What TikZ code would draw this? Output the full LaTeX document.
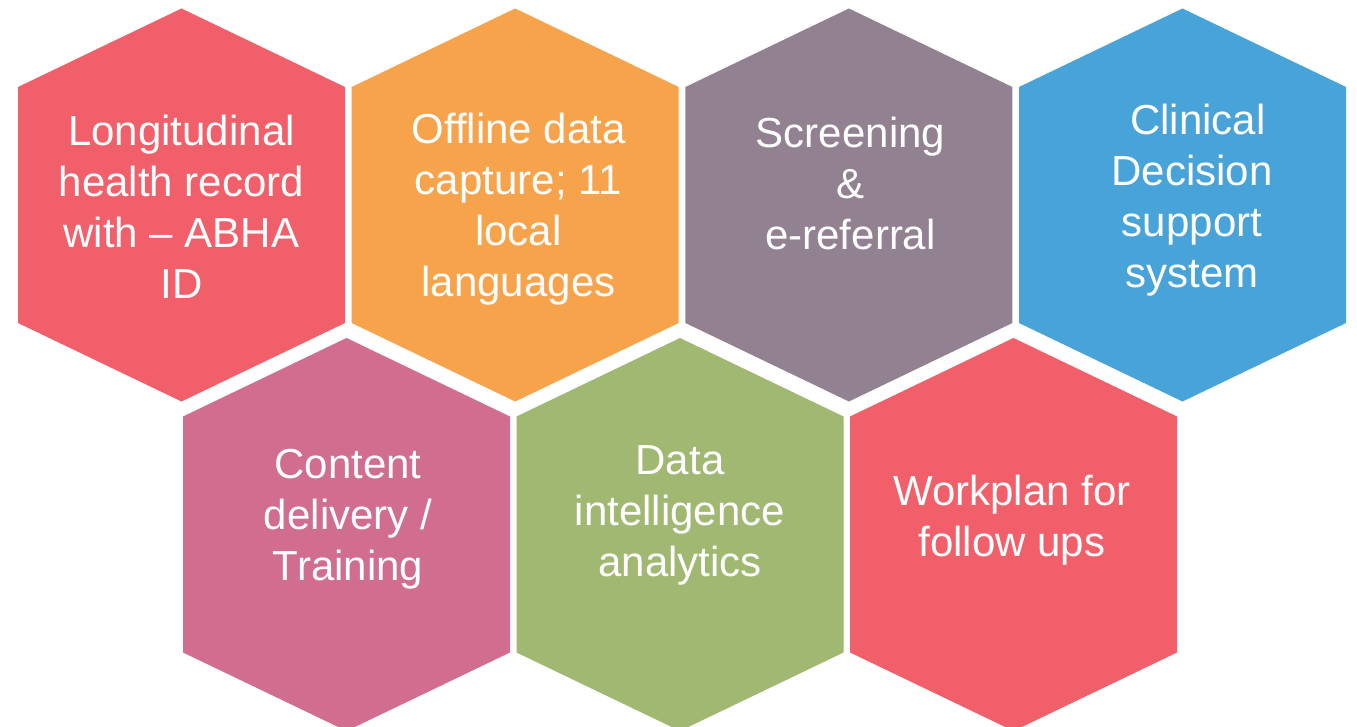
\documentclass[tikz,border=0pt]{standalone}
\usepackage{fontspec}
\setmainfont{Liberation Sans}
\definecolor{hexred}{HTML}{F1606A}
\definecolor{hexorange}{HTML}{F7A34C}
\definecolor{hexmauve}{HTML}{928190}
\definecolor{hexblue}{HTML}{48A4D8}
\definecolor{hexpink}{HTML}{D16D8F}
\definecolor{hexgreen}{HTML}{A1B872}
\newcommand\myhex[3]{%
  \fill[#3] (#1,#2) ++(0,-196.5) -- ++(163.5,78.5) -- ++(0,236) -- ++(-163.5,78.5)
    -- ++(-163.5,-78.5) -- ++(0,-236) -- cycle;}
\begin{document}
\begin{tikzpicture}[x=1pt,y=-1pt,
  lbl/.style={text=white, align=center, inner sep=0pt, anchor=center,
    font=\fontsize{42pt}{51pt}\selectfont}]
\useasboundingbox (0,0) rectangle (1357,727);
\fill[white] (0,0) rectangle (1357,727);
% top row
\myhex{181.5}{205}{hexred}
\myhex{515.2}{205}{hexorange}
\myhex{848.9}{205}{hexmauve}
\myhex{1182.5}{205}{hexblue}
% bottom row
\myhex{346.5}{534.5}{hexpink}
\myhex{680}{534.5}{hexgreen}
\myhex{1013.5}{534.5}{hexred}
% labels
\node[lbl] (t1) at (181.5,207) {Longitudinal\\health record\\with -- ABHA\\ID};
\node[lbl] (t2) at (518.5,209) {Offline data\\capture; 11\\local\\languages};
\node[lbl] (t3) at (850.5,183) {Screening\\\&\\e-referral};
\node[lbl] (t4) at (1192,200.5) {\hspace*{11.7pt}Clinical\\Decision\\support\\system};
\node[lbl] (b1) at (348,519.5) {Content\\delivery /\\Training};
\node[lbl] (b2) at (680,515.5) {Data\\intelligence\\analytics};
\node[lbl] (b3) at (1012,520.5) {Workplan for\\follow ups};
\end{tikzpicture}
\end{document}
